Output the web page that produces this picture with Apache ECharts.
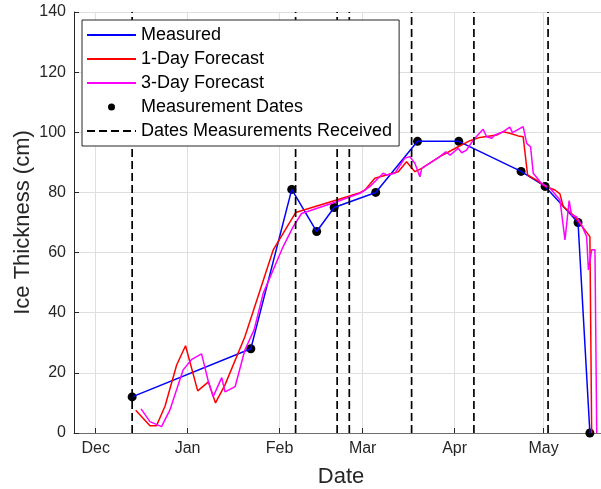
<!DOCTYPE html>
<html>
<head>
<meta charset="utf-8">
<script src="https://cdn.jsdelivr.net/npm/echarts@6/dist/echarts.min.js"></script>
<style>
  html, body { margin: 0; padding: 0; background: #fff; }
  #chart { width: 601px; height: 489px; }
</style>
</head>
<body>
<div id="chart"></div>
<script>
// all days are counted from 1 Dec 2020
var seasonStart = Date.UTC(2020, 11, 1);
var DAY = 86400000;
var monthNames = ["Jan", "Feb", "Mar", "Apr", "May", "Jun", "Jul", "Aug", "Sep", "Oct", "Nov", "Dec"];

var axisStartDay = -7.3;
var axisEndDay = 172.7;

var measuredDays = [12.3, 52.3, 66.1, 74.5, 80.4, 94.4, 108.5, 122.4, 143.4, 151.5, 162.6, 166.6];
var measuredCm = [12, 28, 81, 67, 75, 80, 97, 97, 87, 82, 70, 0];

var forecast1Days = [13.5, 18.3, 20.5, 23.4, 27.3, 30.3, 34.4, 38, 40.4, 43.6, 50.3, 59.9, 67.4, 81.2, 89.1,
  90.8, 94.1, 102, 104.8, 107.6, 109.9, 116, 122.2, 126.2, 129.5, 135.2, 137.4, 139.6, 142.4, 144.1,
  145.6, 148.6, 151.4, 154.8, 156.5, 157.6, 161, 163.2, 166.6, 167.2];
var forecast1Cm = [7.6, 2.4, 2.4, 9, 22.6, 29, 14, 17, 10, 16, 32, 61, 73.3, 77.5, 79.9,
  80.8, 84.7, 86.9, 90.2, 86.9, 88, 91.9, 95.2, 97.2, 98.3, 99.1, 100.2, 99.7, 98.8, 98.5,
  85.8, 84.1, 82.1, 80.8, 79.5, 75.3, 72.5, 69.7, 65.3, 0];

var forecast3Days = [15.3, 18.3, 22.2, 25, 29.5, 32.4, 35.7, 38, 39.6, 42.5, 43.6, 47, 50.3, 53.4, 56.5,
  63.2, 66.6, 69.4, 81.2, 89.1, 92.4, 96.9, 98.1, 100.9, 104.2, 105.9, 107.6, 109.3, 109.9, 116,
  118, 119.5, 122.2, 123.4, 125, 127.3, 130.6, 131.8, 133.5, 134.6, 137.4, 139.6, 140.5, 144.1, 145.3,
  146.6, 147.5, 150.3, 153.1, 154.2, 156.5, 158.2, 159.6, 160.4, 162.1, 163.8, 165.5, 166.1, 167.2,
  168.3, 168.9];
var forecast3Cm = [8, 3.8, 2.1, 7.6, 21, 24.5, 26.3, 17.1, 12.1, 18.4, 13.7, 15.4, 27.6, 34.3, 46.5,
  62, 68.6, 73, 76.9, 79.7, 81.9, 86.4, 85.8, 86.4, 91.4, 91.9, 89.7, 85.2, 88, 91.9,
  93.5, 92.4, 94.7, 93.2, 94.1, 97.4, 101, 98.5, 98, 99.1, 100.2, 101.7, 99.9, 101.9, 96.3,
  95.2, 86.4, 83, 81.4, 80.2, 77.5, 64.2, 77.3, 72.5, 71.9, 69.2, 65.3, 54.2, 60.9,
  60.9, 0];

var receivedDays = [12.3, 67.4, 81.4, 85.5, 106.5, 127.5, 152.5];

function toTime(d) { return seasonStart + d * DAY; }
function pairs(days, vals) {
  return days.map(function (d, i) { return [toTime(d), vals[i]]; });
}

var receivedLines = [];
receivedDays.forEach(function (d) {
  receivedLines.push([toTime(d), 0], [toTime(d), 140], [toTime(d), '-']);
});

var font = "'Liberation Sans', Arial, Helvetica, sans-serif";
var lineOnly = { opacity: 0 };

var myChart = echarts.init(document.getElementById("chart"));
var option = {
  animation: false,
  useUTC: true,
  grid: { left: 74, right: -7, top: 12, bottom: 56, containLabel: false, outerBoundsMode: "none" },
  legend: {
    orient: "vertical",
    left: 82,
    top: 20,
    padding: [3, 7, 3, 4],
    itemWidth: 49,
    itemHeight: 7,
    itemGap: 0,
    backgroundColor: "#fff",
    borderColor: "#262626",
    borderWidth: 1,
    borderRadius: 0,
    selectedMode: false,
    textStyle: { fontFamily: font, fontSize: 18, color: "#000", lineHeight: 24 },
    data: [
      { name: "Measured", itemStyle: lineOnly },
      { name: "1-Day Forecast", itemStyle: lineOnly },
      { name: "3-Day Forecast", itemStyle: lineOnly },
      { name: "Measurement Dates" },
      { name: "Dates Measurements Received", itemStyle: lineOnly }
    ]
  },
  xAxis: {
    type: "time",
    min: toTime(axisStartDay),
    max: toTime(axisEndDay),
    splitNumber: 6,
    name: "Date",
    nameLocation: "middle",
    nameGap: 33,
    nameMoveOverlap: false,
    nameTextStyle: { fontFamily: font, fontSize: 22, color: "#262626" },
    axisLine: { lineStyle: { color: "#6e6e6e", width: 1 } },
    axisTick: { inside: true, length: 5, lineStyle: { color: "#262626" } },
    axisLabel: {
      margin: 8,
      fontFamily: font,
      fontSize: 16,
      color: "#262626",
      showMinLabel: false,
      showMaxLabel: false,
      formatter: function (val) { return monthNames[new Date(val).getUTCMonth()]; }
    },
    splitLine: { show: true, lineStyle: { color: "#dfdfdf", width: 1 } }
  },
  yAxis: {
    type: "value",
    min: 0,
    max: 140,
    interval: 20,
    name: "Ice Thickness (cm)",
    nameLocation: "middle",
    nameGap: 40,
    nameMoveOverlap: false,
    nameTextStyle: { fontFamily: font, fontSize: 22, color: "#262626" },
    axisLine: { show: true, lineStyle: { color: "#262626", width: 1 } },
    axisTick: { show: true, inside: true, length: 5, lineStyle: { color: "#262626" } },
    axisLabel: { margin: 8, fontFamily: font, fontSize: 16, color: "#262626" },
    splitLine: { show: true, lineStyle: { color: "#dfdfdf", width: 1 } }
  },
  series: [
    {
      name: "Measured",
      type: "line",
      symbol: "none",
      color: "#0000ff",
      lineStyle: { width: 1.5, color: "#0000ff" },
      data: pairs(measuredDays, measuredCm)
    },
    {
      name: "1-Day Forecast",
      type: "line",
      symbol: "none",
      color: "#ff0000",
      lineStyle: { width: 1.5, color: "#ff0000" },
      data: pairs(forecast1Days, forecast1Cm)
    },
    {
      name: "3-Day Forecast",
      type: "line",
      symbol: "none",
      color: "#ff00ff",
      lineStyle: { width: 1.5, color: "#ff00ff" },
      data: pairs(forecast3Days, forecast3Cm)
    },
    {
      name: "Measurement Dates",
      type: "scatter",
      symbol: "circle",
      symbolSize: 9,
      color: "#000",
      itemStyle: { color: "#000", opacity: 1 },
      data: pairs(measuredDays, measuredCm)
    },
    {
      name: "Dates Measurements Received",
      type: "line",
      symbol: "none",
      color: "#000",
      lineStyle: { width: 1.7, color: "#000", type: [8, 4] },
      data: receivedLines
    }
  ]
};

option && myChart.setOption(option);
</script>
</body>
</html>
